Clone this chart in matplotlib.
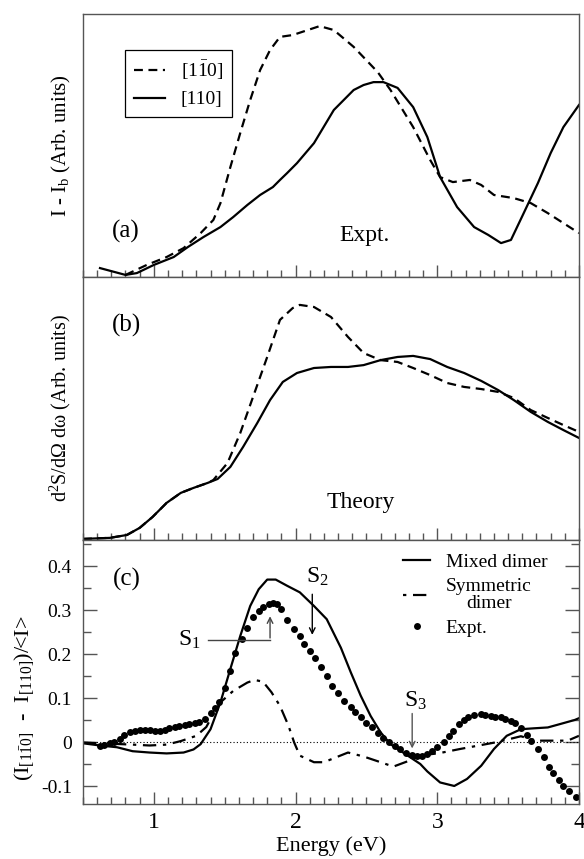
import matplotlib
matplotlib.use('Agg')
import matplotlib.pyplot as plt
from matplotlib.ticker import MultipleLocator
from matplotlib.lines import Line2D

plt.rcParams['font.family'] = ['Liberation Serif', 'DejaVu Serif']
plt.rcParams['mathtext.fontset'] = 'stix'
plt.rcParams['mathtext.default'] = 'regular'

# ---- (a) measured spectra, background subtracted (arb. units) ----
e_a_110 = [0.62, 0.80, 0.88, 1.00, 1.14, 1.24, 1.35, 1.47, 1.56, 1.66, 1.75, 1.84,
           1.89, 1.94, 2.01, 2.13, 2.27, 2.41, 2.48, 2.55, 2.62, 2.67, 2.72, 2.83,
           2.93, 3.02, 3.14, 3.26, 3.36, 3.45, 3.52, 3.61, 3.71, 3.80, 3.89, 4.00]
a_110 = [3.4, 0.8, 1.5, 4.6, 7.6, 11.4, 15.2, 19.0, 22.8, 27.4, 31.2, 34.2,
         36.9, 39.5, 43.3, 50.9, 63.5, 71.1, 73.0, 74.1, 74.1, 73.0, 71.9, 64.6,
         53.2, 38.0, 26.6, 19.0, 16.0, 12.9, 14.1, 24.3, 35.7, 47.1, 57.0, 65.4]

e_a_1m10 = [0.80, 0.95, 1.09, 1.21, 1.33, 1.42, 1.47, 1.54, 1.61, 1.68, 1.75, 1.82,
            1.89, 1.98, 2.17, 2.27, 2.41, 2.58, 2.67, 2.83, 2.95, 3.02, 3.11, 3.23,
            3.31, 3.40, 3.54, 3.66, 3.78, 3.89, 4.00]
a_1m10 = [0.8, 4.6, 7.6, 11.0, 16.7, 21.7, 28.1, 41.8, 54.8, 67.3, 78.7, 86.3,
          91.3, 92.0, 95.4, 93.9, 87.5, 77.9, 71.1, 57.0, 44.5, 38.0, 36.1, 36.9,
          35.0, 31.2, 30.0, 28.1, 24.3, 20.5, 16.7]

# ---- (b) calculated spectra (arb. units) ----
e_b_110 = [0.50, 0.69, 0.81, 0.90, 0.99, 1.09, 1.19, 1.28, 1.38, 1.45, 1.54, 1.63,
           1.73, 1.82, 1.91, 2.01, 2.13, 2.25, 2.37, 2.48, 2.60, 2.72, 2.83, 2.95,
           3.07, 3.19, 3.31, 3.43, 3.54, 3.66, 3.78, 3.89, 4.00]
b_110 = [0.4, 0.8, 1.9, 4.6, 8.7, 14.1, 17.9, 19.8, 21.7, 23.2, 27.8, 35.4,
         44.5, 53.2, 60.1, 63.5, 65.4, 65.8, 65.8, 66.5, 68.4, 69.6, 70.0, 68.8,
         65.8, 63.5, 60.5, 57.0, 53.2, 48.7, 44.9, 41.8, 38.8]

e_b_1m10 = [0.50, 0.69, 0.81, 0.90, 0.99, 1.09, 1.19, 1.28, 1.38, 1.42, 1.52, 1.61,
            1.70, 1.80, 1.89, 1.98, 2.03, 2.13, 2.25, 2.37, 2.48, 2.60, 2.72, 2.83,
            2.95, 3.07, 3.19, 3.31, 3.43, 3.54, 3.66, 3.78, 3.89, 4.00]
b_1m10 = [0.4, 0.8, 1.9, 4.6, 8.7, 14.1, 17.9, 19.8, 21.7, 22.8, 29.3, 40.7,
          54.4, 69.6, 83.7, 88.2, 89.4, 88.6, 84.8, 77.2, 71.1, 68.4, 67.7, 65.4,
          62.7, 59.7, 58.2, 57.4, 56.3, 54.0, 49.4, 46.4, 43.7, 41.1]

# ---- (c) normalised anisotropy ----
e_mixed = [0.50, 0.62, 0.74, 0.85, 0.97, 1.09, 1.21, 1.28, 1.33, 1.40, 1.47, 1.54,
           1.61, 1.68, 1.74, 1.80, 1.86, 1.94, 2.03, 2.13, 2.22, 2.32, 2.39, 2.46,
           2.53, 2.60, 2.67, 2.74, 2.81, 2.88, 2.93, 3.02, 3.12, 3.21, 3.31, 3.40,
           3.49, 3.59, 3.68, 3.78, 3.87, 3.97, 4.00]
mixed = [-0.002, -0.007, -0.011, -0.020, -0.023, -0.025, -0.023, -0.016, -0.004, 0.030,
         0.091, 0.167, 0.242, 0.310, 0.348, 0.370, 0.370, 0.356, 0.341, 0.310,
         0.280, 0.215, 0.159, 0.106, 0.060, 0.023, -0.004, -0.019, -0.034, -0.049,
         -0.066, -0.091, -0.099, -0.083, -0.053, -0.015, 0.015, 0.030, 0.032, 0.034,
         0.042, 0.051, 0.055]

e_sym = [0.50, 0.62, 0.85, 0.97, 1.09, 1.19, 1.30, 1.37, 1.42, 1.47, 1.56, 1.66,
         1.71, 1.77, 1.83, 1.89, 1.95, 1.99, 2.03, 2.13, 2.20, 2.37, 2.48, 2.60,
         2.69, 2.79, 2.88, 3.02, 3.16, 3.31, 3.41, 3.54, 3.59, 3.70, 3.82, 3.92, 4.00]
sym = [0.000, -0.002, -0.005, -0.007, -0.005, 0.003, 0.015, 0.035, 0.065, 0.091,
       0.117, 0.136, 0.142, 0.138, 0.114, 0.083, 0.038, 0.000, -0.030, -0.045,
       -0.045, -0.023, -0.032, -0.045, -0.055, -0.043, -0.030, -0.024, -0.015,
       -0.006, 0.000, 0.010, 0.014, 0.004, 0.004, 0.004, 0.015]

e_expt = [0.62, 0.65, 0.69, 0.72, 0.76, 0.79, 0.83, 0.87, 0.90, 0.94, 0.97, 1.01,
          1.04, 1.08, 1.11, 1.15, 1.18, 1.22, 1.25, 1.29, 1.32, 1.36, 1.40, 1.43,
          1.46, 1.50, 1.54, 1.57, 1.62, 1.66, 1.70, 1.74, 1.77, 1.81, 1.84, 1.87,
          1.90, 1.94, 1.99, 2.03, 2.06, 2.10, 2.14, 2.18, 2.22, 2.26, 2.30, 2.34,
          2.39, 2.42, 2.46, 2.50, 2.54, 2.58, 2.62, 2.66, 2.70, 2.74, 2.78, 2.82,
          2.86, 2.89, 2.93, 2.96, 3.00, 3.05, 3.08, 3.11, 3.15, 3.19, 3.22, 3.26,
          3.31, 3.34, 3.38, 3.41, 3.45, 3.48, 3.52, 3.55, 3.59, 3.63, 3.66, 3.71,
          3.75, 3.79, 3.82, 3.86, 3.89, 3.93, 3.98]
expt = [-0.008, -0.005, -0.002, 0.000, 0.008, 0.017, 0.023, 0.026, 0.029, 0.028,
        0.028, 0.026, 0.025, 0.028, 0.032, 0.034, 0.038, 0.040, 0.042, 0.044,
        0.047, 0.053, 0.066, 0.078, 0.091, 0.123, 0.163, 0.203, 0.236, 0.261,
        0.284, 0.298, 0.307, 0.314, 0.317, 0.314, 0.303, 0.278, 0.258, 0.241,
        0.223, 0.208, 0.192, 0.172, 0.150, 0.129, 0.112, 0.095, 0.080, 0.068,
        0.057, 0.045, 0.034, 0.021, 0.011, 0.000, -0.008, -0.015, -0.023, -0.029,
        -0.032, -0.030, -0.027, -0.020, -0.011, 0.000, 0.015, 0.026, 0.042, 0.051,
        0.057, 0.062, 0.064, 0.062, 0.059, 0.058, 0.057, 0.053, 0.049, 0.043,
        0.032, 0.017, 0.004, -0.015, -0.034, -0.055, -0.070, -0.086, -0.099,
        -0.111, -0.125]

spine_col = '#555555'
lw = 1.6
dashdot = (0, (6, 3, 1.5, 3))

fig = plt.figure(figsize=(5.84, 8.59), dpi=100)
ax_a = fig.add_axes([0.1421, 0.6775, 0.8493, 0.3062])
ax_b = fig.add_axes([0.1421, 0.3714, 0.8493, 0.3061])
ax_c = fig.add_axes([0.1421, 0.0640, 0.8493, 0.3074])


def style_axis(ax, yticks=False):
    ax.set_xlim(0.5, 4.0)
    ax.xaxis.set_major_locator(MultipleLocator(1))
    ax.xaxis.set_minor_locator(MultipleLocator(0.1))
    for sp in ax.spines.values():
        sp.set_color(spine_col)
        sp.set_linewidth(1.0)
    ax.tick_params(axis='x', which='both', direction='in', top=False,
                   color=spine_col, width=1.0)
    ax.tick_params(axis='x', which='major', length=9)
    ax.tick_params(axis='x', which='minor', length=5)
    if not yticks:
        ax.set_yticks([])


# (a) experiment
style_axis(ax_a)
ax_a.plot(e_a_1m10, a_1m10, color='black', lw=lw, ls=(0, (4, 2.5)), label=r'[1$\bar{1}$0]')
ax_a.plot(e_a_110, a_110, color='black', lw=lw, label='[110]')
ax_a.set_ylim(0, 100)
ax_a.tick_params(axis='x', labelbottom=False)
ax_a.set_ylabel(r'I - I$_b$ (Arb. units)', fontsize=15)
ax_a.yaxis.set_label_coords(-0.02, 0.5)
ax_a.text(0.087, 0.175, '(a)', transform=ax_a.transAxes, fontsize=18, ha='center', va='center')
ax_a.text(0.567, 0.156, 'Expt.', transform=ax_a.transAxes, fontsize=17, ha='center', va='center')
leg_a = ax_a.legend(loc='upper left', bbox_to_anchor=(0.085, 0.863), borderaxespad=0,
                    fontsize=14, handlelength=1.6, handletextpad=0.8, labelspacing=0.45,
                    fancybox=False, edgecolor='black', framealpha=1, borderpad=0.45)
leg_a.get_frame().set_linewidth(0.9)

# (b) theory
style_axis(ax_b)
ax_b.plot(e_b_1m10, b_1m10, color='black', lw=lw, ls=(0, (4, 2.5)))
ax_b.plot(e_b_110, b_110, color='black', lw=lw)
ax_b.set_ylim(0, 100)
ax_b.tick_params(axis='x', labelbottom=False)
ax_b.set_ylabel(r'd$^2$S/d$\Omega$ d$\omega$ (Arb. units)', fontsize=14.5)
ax_b.yaxis.set_label_coords(-0.02, 0.5)
ax_b.text(0.087, 0.814, '(b)', transform=ax_b.transAxes, fontsize=18, ha='center', va='center')
ax_b.text(0.560, 0.144, 'Theory', transform=ax_b.transAxes, fontsize=17, ha='center', va='center')

# (c) anisotropy
style_axis(ax_c, yticks=True)
ax_c.axhline(0, color='black', lw=0.8, ls=(0, (1, 2)))
ax_c.plot(e_mixed, mixed, color='black', lw=lw)
ax_c.plot(e_sym, sym, color='black', lw=lw, ls=dashdot)
ax_c.plot(e_expt, expt, 'o', color='black', ms=5, mew=0)
ax_c.set_ylim(-0.14, 0.46)
ax_c.yaxis.set_major_locator(MultipleLocator(0.1))
ax_c.yaxis.set_minor_locator(MultipleLocator(0.05))
ax_c.set_yticks([-0.1, 0, 0.1, 0.2, 0.3, 0.4])
ax_c.set_yticklabels(['-0.1', '0', '0.1', '0.2', '0.3', '0.4'])
ax_c.tick_params(axis='y', which='both', direction='in', left=True, right=True,
                 color=spine_col, width=1.0, labelsize=14, pad=8)
ax_c.tick_params(axis='y', which='major', length=10)
ax_c.tick_params(axis='y', which='minor', length=6)
ax_c.tick_params(axis='x', which='major', labelsize=17, pad=6)
ax_c.set_xticks([1, 2, 3, 4])
ax_c.set_xlabel('Energy (eV)', fontsize=16, labelpad=2)
ax_c.set_ylabel(r'(I$_{[1\bar{1}0]}$  -  I$_{[110]}$)/<I>', fontsize=16)
ax_c.yaxis.set_label_coords(-0.095, 0.40)
ax_c.text(0.81, 0.371, '(c)', fontsize=18, ha='center', va='center')

# peak markers S1, S2, S3
ax_c.plot([1.38, 1.82], [0.232, 0.232], color='#444444', lw=1.0)
ax_c.annotate('', xy=(1.82, 0.293), xytext=(1.82, 0.231),
              arrowprops=dict(arrowstyle='->', color='#444444', lw=1.0))
ax_c.text(1.25, 0.232, r'S$_1$', fontsize=17, ha='center', va='center')
ax_c.annotate('', xy=(2.118, 0.238), xytext=(2.118, 0.343),
              arrowprops=dict(arrowstyle='->', color='black', lw=1.0))
ax_c.text(2.155, 0.376, r'S$_2$', fontsize=17, ha='center', va='center')
ax_c.annotate('', xy=(2.823, -0.020), xytext=(2.823, 0.072),
              arrowprops=dict(arrowstyle='->', color='#555555', lw=1.0))
ax_c.text(2.845, 0.094, r'S$_3$', fontsize=17, ha='center', va='center')

handles = [Line2D([], [], color='black', lw=lw),
           Line2D([], [], color='black', lw=lw, ls=(9, (6, 3, 1.5, 3))),
           Line2D([], [], color='black', marker='o', ls='none', ms=5, mew=0)]
leg_c = ax_c.legend(handles, ['Mixed dimer', 'Symmetric\ndimer', 'Expt.'],
                    loc='upper left', bbox_to_anchor=(0.645, 0.950), borderaxespad=0,
                    frameon=False, fontsize=14, handlelength=1.4, handletextpad=0.8,
                    labelspacing=0.35, borderpad=0)
sym_text = leg_c.get_texts()[1]
sym_text.set_multialignment('center')
sym_text.set_linespacing(1.05)

plt.savefig('out.png', dpi=100)
